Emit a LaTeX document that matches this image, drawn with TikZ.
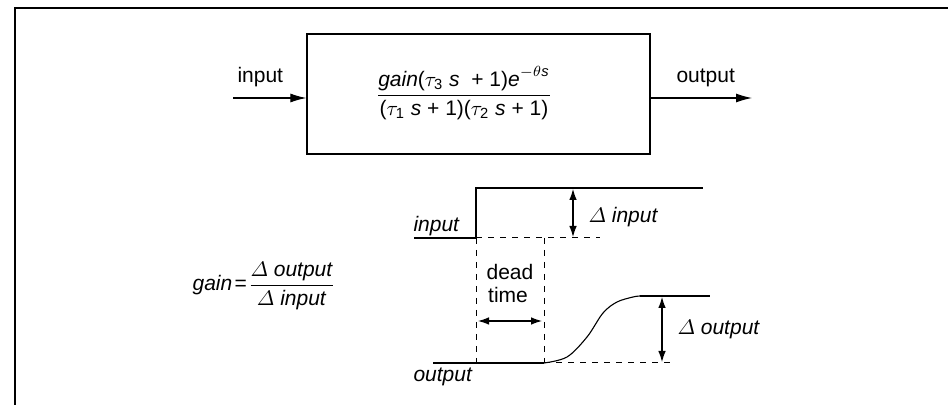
\RequirePackage{fix-cm}
\documentclass[tikz,border=0pt]{standalone}
\usepackage{amsmath}
\usepackage{fontspec}
\setmainfont{Liberation Sans}
\usetikzlibrary{arrows.meta}
\newcommand{\vi}[1]{\textit{#1}}
\newcommand{\dlt}{$\varDelta$}
\begin{document}
\begin{tikzpicture}[x=0.5pt, y=-0.5pt,
  font=\fontsize{10.5}{12.6}\selectfont,
  line width=0.55pt,
  frameline/.style={line width=1.3pt},
  dashline/.style={dash pattern=on 3pt off 3pt, line width=0.5pt},
  bigarrow/.style={-{Latex[length=8pt,width=4.5pt]}},
  dblarrow/.style={{Latex[length=5.5pt,width=3.8pt]}-{Latex[length=5.5pt,width=3.8pt]}},
  lbl/.style={inner sep=0pt, anchor=base west},
  ctr/.style={inner sep=0pt, anchor=base}]
\useasboundingbox (0,0) rectangle (948,405);
% frame
\draw[frameline] (15,405) -- (15,8) -- (948,8);
% block
\node[draw, line width=0.65pt, minimum width=171.5pt, minimum height=60pt, inner sep=0pt] (block) at (478.5,94) {};
\node[ctr] (tf) at (464,101) {$\dfrac{\text{\vi{gain}(}\tau_{\text{3}}\text{ \vi{s} \ + 1)\vi{e}}^{-\theta\text{\vi{s}}}}{\text{(}\tau_{\text{1}}\text{ \vi{s} + 1)(}\tau_{\text{2}}\text{ \vi{s} + 1)}}$};
\coordinate (inL) at (233,98);
\coordinate (outR) at (752,98);
\draw[bigarrow] (inL) -- (inL -| block.west);
\draw[bigarrow] (outR -| block.east) -- (outR);
\node[lbl] (tin) at (237,83) {input};
\node[lbl] (tout) at (676,83) {output};
% gain formula
\node[ctr] (gf) at (264,291) {$\text{\vi{gain}}\mkern2mu\text{=}\mkern1mu\dfrac{\varDelta\ \text{\vi{output}}}{\varDelta\ \text{\vi{input}}}$};
% input step
\coordinate (i0) at (414,238);
\coordinate (i1) at (476,238);
\coordinate (i2) at (476,188);
\coordinate (i3) at (703,188);
\coordinate (iD) at (600,238);
\coordinate (iV) at (544,238);
\draw (i0) -- (i1) -- (i2) -- (i3);
\draw[dashline] (i1) -- (iD);
% output response
\coordinate (o0) at (433,363);
\coordinate (o1) at (544,363);
\coordinate (oL) at (476,363);
\coordinate (o2) at (640,296);
\coordinate (o3) at (710,296);
\coordinate (oD) at (673,363);
\draw (o0) -- (o1);
\draw plot[smooth, tension=0.55] coordinates {(544,363) (567,357) (587,337) (603,313) (617,302) (633,297) (640,296)};
\draw (o2) -- (o3);
\draw[dashline] (o1) -- (oD);
\draw[dashline] (i1) -- (oL);
\draw[dashline] (iV) -- (o1);
% dimension arrows
\coordinate (ai1) at (573,189);
\coordinate (ai2) at (573,237);
\draw[dblarrow] (ai1) -- (ai2);
\coordinate (ao1) at (662,297);
\coordinate (ao2) at (662,362);
\draw[dblarrow] (ao1) -- (ao2);
\coordinate (ad1) at (478,321);
\coordinate (ad2) at (542,321);
\draw[dblarrow] (ad1) -- (ad2);
% labels
\node[lbl] (lin) at (413,232) {\vi{input}};
\node[lbl] (lout) at (413,382) {\vi{output}};
\node[lbl] (ldi) at (588,223) {\dlt\ \vi{input}};
\node[lbl] (ldo) at (677,335) {\dlt\ \vi{output}};
\node[ctr] (ldead) at (510,280) {dead};
\node[ctr] (ltime) at (508,303) {time};
\end{tikzpicture}
\end{document}
